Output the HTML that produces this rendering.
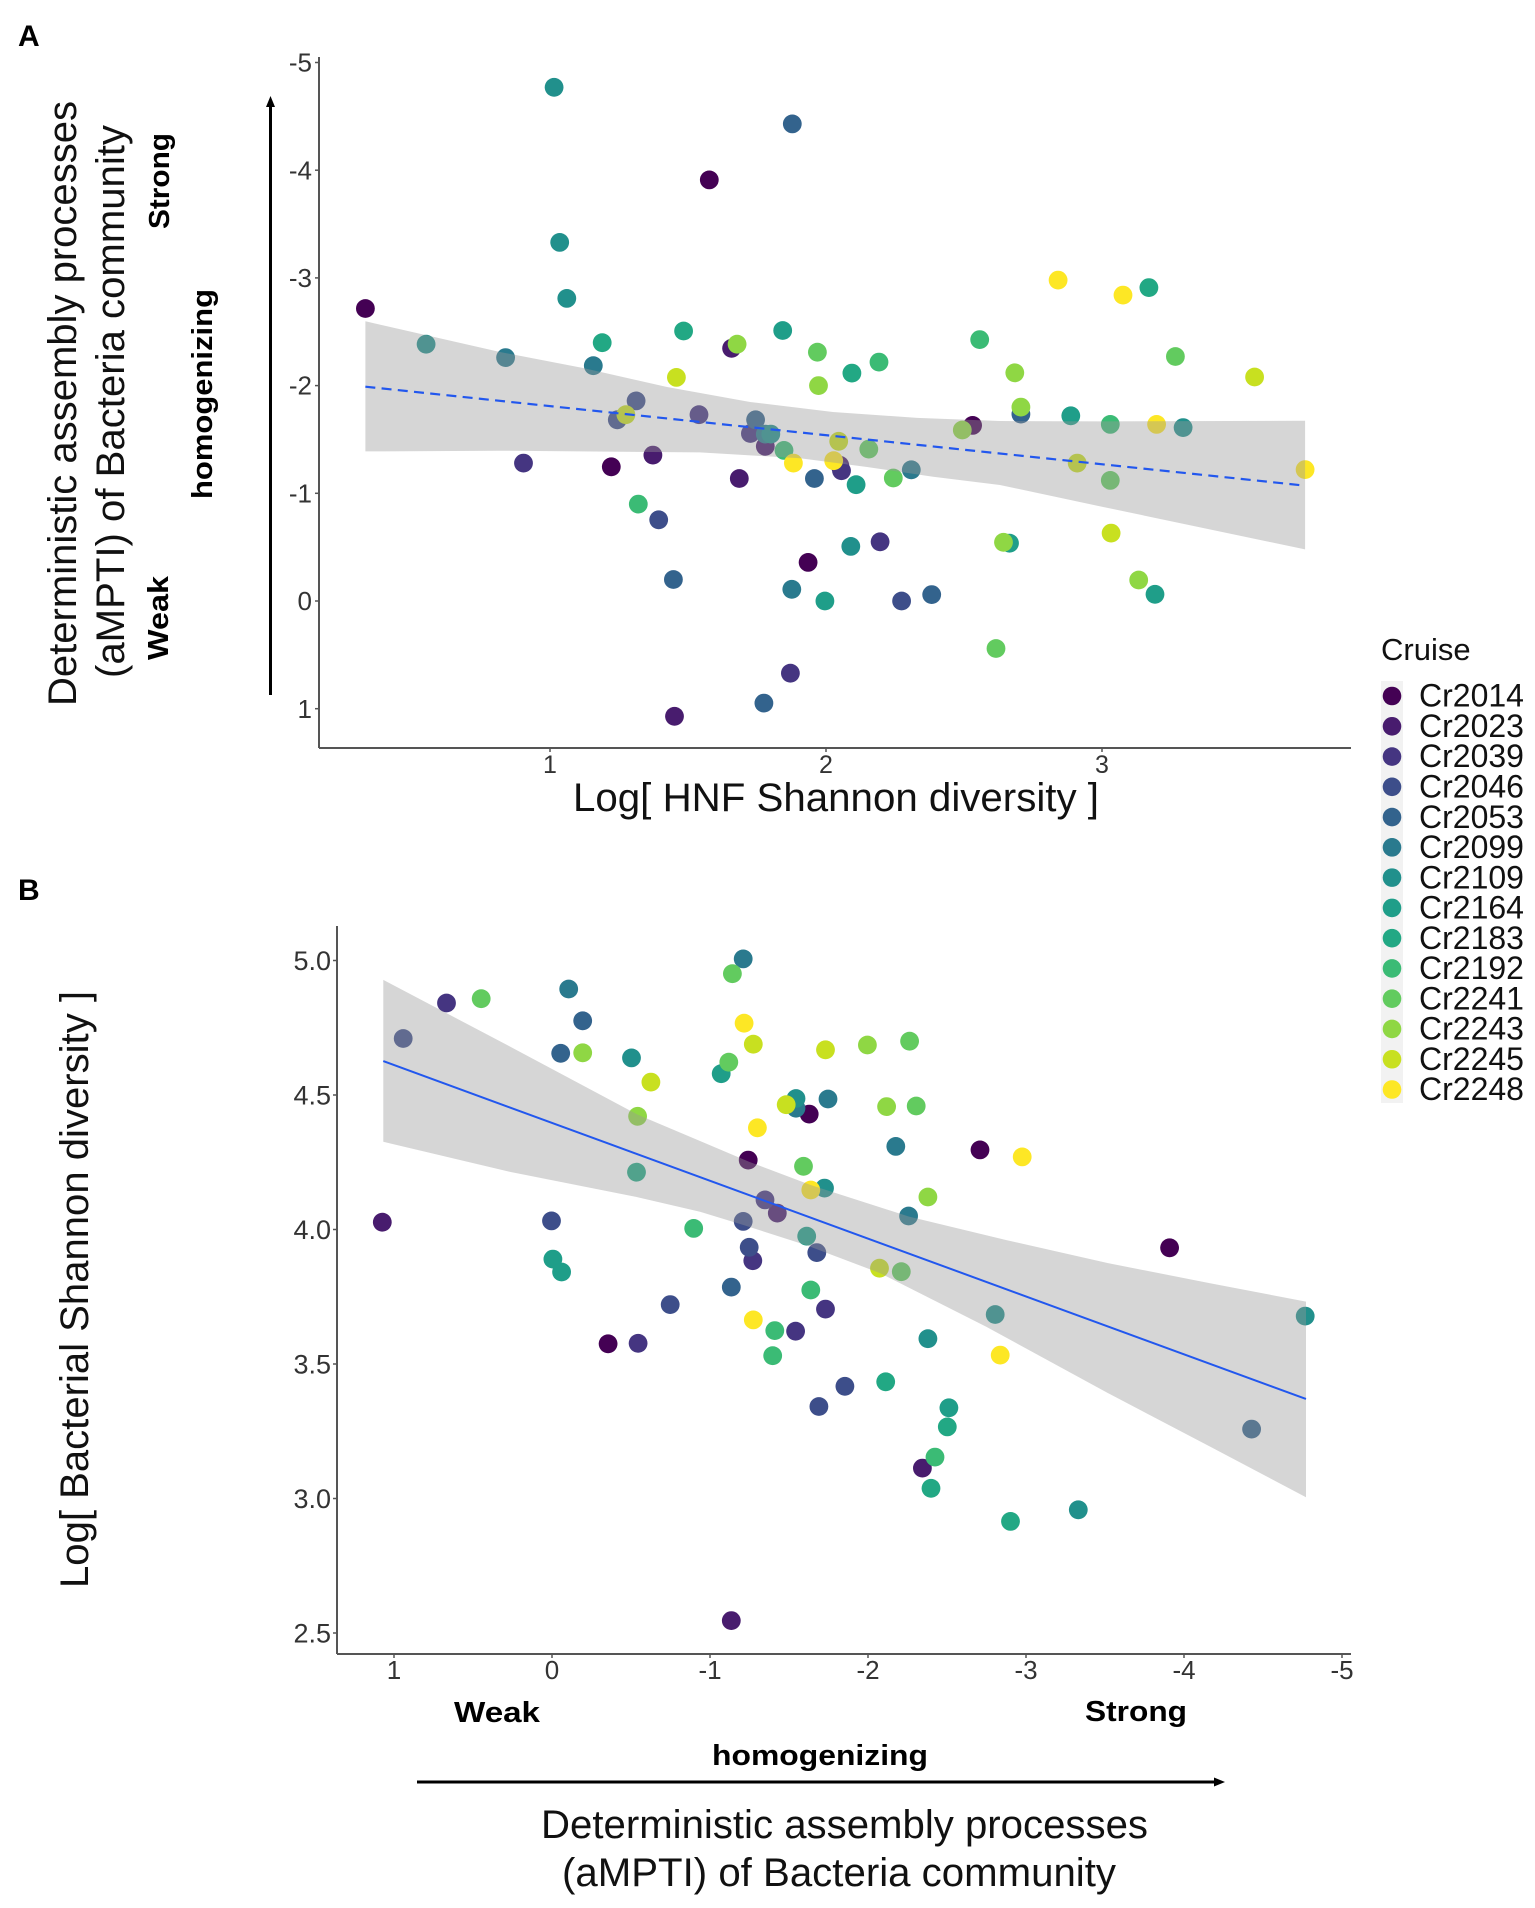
<!DOCTYPE html>
<html lang="en">
<head>
<meta charset="utf-8">
<title>Deterministic assembly processes scatter plots</title>
<style>
html,body{margin:0;padding:0;background:#fff;}
svg{display:block;font-family:"Liberation Sans",Arial,sans-serif;}
</style>
</head>
<body>
<svg id="figure" xmlns="http://www.w3.org/2000/svg" width="1535" height="1908" viewBox="0 0 1535 1908">
  <rect x="0" y="0" width="1535" height="1908" fill="#fff"/>
  <g id="panelA"></g>
  <g id="panelB"></g>

  <text x="18" y="46" font-size="30" font-weight="700" fill="#000">A</text>
  <text x="18" y="900" font-size="30" font-weight="700" fill="#000">B</text>

  <text transform="translate(76,706) rotate(-90)" font-size="40" fill="#111" textLength="605" lengthAdjust="spacingAndGlyphs">Deterministic assembly processes</text>
  <text transform="translate(124,678) rotate(-90)" font-size="40" fill="#111" textLength="553" lengthAdjust="spacingAndGlyphs">(aMPTI) of Bacteria community</text>
  <text transform="translate(169,229) rotate(-90)" font-size="29" font-weight="700" fill="#000" textLength="96" lengthAdjust="spacingAndGlyphs">Strong</text>
  <text transform="translate(212,499) rotate(-90)" font-size="29" font-weight="700" fill="#000" textLength="210" lengthAdjust="spacingAndGlyphs">homogenizing</text>
  <text transform="translate(168,660) rotate(-90)" font-size="29" font-weight="700" fill="#000" textLength="84" lengthAdjust="spacingAndGlyphs">Weak</text>
  <line x1="270.5" y1="695" x2="270.5" y2="102" stroke="#000" stroke-width="3"/>
  <polygon points="270.5,96 266,107 275,107" fill="#000"/>
  <text x="573" y="811" font-size="40" fill="#111" textLength="526" lengthAdjust="spacingAndGlyphs">Log[ HNF Shannon diversity ]</text>

  <text transform="translate(88,1588) rotate(-90)" font-size="40" fill="#111" textLength="597" lengthAdjust="spacingAndGlyphs">Log[ Bacterial Shannon diversity ]</text>
  <text x="454" y="1722" font-size="29" font-weight="700" fill="#000" textLength="86" lengthAdjust="spacingAndGlyphs">Weak</text>
  <text x="1085" y="1721" font-size="29" font-weight="700" fill="#000" textLength="102" lengthAdjust="spacingAndGlyphs">Strong</text>
  <text x="712" y="1765" font-size="29" font-weight="700" fill="#000" textLength="216" lengthAdjust="spacingAndGlyphs">homogenizing</text>
  <line x1="417" y1="1782" x2="1218" y2="1782" stroke="#000" stroke-width="3"/>
  <polygon points="1225,1782 1214,1777.5 1214,1786.5" fill="#000"/>
  <text x="541" y="1838" font-size="40" fill="#111" textLength="607" lengthAdjust="spacingAndGlyphs">Deterministic assembly processes</text>
  <text x="562" y="1886" font-size="40" fill="#111" textLength="554" lengthAdjust="spacingAndGlyphs">(aMPTI) of Bacteria community</text>

  <g id="legend">
    <text x="1381" y="660" font-size="31" fill="#111">Cruise</text>
    <rect x="1381" y="681" width="22" height="422" fill="#F2F2F2"/>
  </g>
</svg>
<script>
const cruises = ["Cr2014","Cr2023","Cr2039","Cr2046","Cr2053","Cr2099","Cr2109","Cr2164","Cr2183","Cr2192","Cr2241","Cr2243","Cr2245","Cr2248"];
const cruiseColors = ["#440154","#481C6E","#453581","#3D4E8A","#33638D","#2A7A8E","#21908C","#1F9E89","#22A884","#3BBB75","#62CB5F","#8FD744","#C8E020","#FDE725"];

const aTicksX = [1,2,3];
const aTicksY = [-5,-4,-3,-2,-1,0,1];
const aHnf = [1.015,1.878,1.577,1.035,1.061,0.331,0.551,0.839,1.157,1.189,1.484,1.658,1.678,1.843,1.458,1.312,1.275,1.244,1.54,0.904,1.222,1.373,1.686,1.32,1.394,1.447,1.876,1.745,1.726,1.78,1.80,1.78,1.848,1.882,1.958,1.969,1.973,2.094,2.192,2.046,2.028,2.05,2.056,2.155,2.109,2.244,2.309,2.09,2.196,1.935,1.996,2.274,2.383,2.616,1.871,1.775,1.451,2.557,2.684,2.706,2.706,2.531,2.494,2.887,3.03,3.198,3.294,2.91,3.03,3.736,2.643,2.665,3.033,3.133,3.192,2.841,3.076,3.17,3.266,3.553];
const aMpti = [-4.77,-4.43,-3.91,-3.33,-2.81,-2.716,-2.384,-2.26,-2.185,-2.398,-2.507,-2.346,-2.384,-2.512,-2.076,-1.858,-1.73,-1.682,-1.73,-1.28,-1.246,-1.355,-1.137,-0.90,-0.754,-0.2,-0.109,-1.682,-1.555,-1.436,-1.55,-1.55,-1.398,-1.28,-1.137,-2.31,-2.0,-2.116,-2.218,-1.483,-1.303,-1.26,-1.21,-1.41,-1.08,-1.142,-1.218,-0.507,-0.55,-0.358,0,0,-0.059,0.441,0.67,0.948,1.071,-2.427,-2.119,-1.80,-1.735,-1.63,-1.588,-1.72,-1.64,-1.64,-1.61,-1.28,-1.12,-1.22,-0.545,-0.537,-0.63,-0.195,-0.062,-2.98,-2.84,-2.91,-2.27,-2.08];
const aCruise = [6,4,0,6,6,0,6,5,5,8,8,1,11,7,12,3,12,3,2,2,0,1,1,9,3,4,5,4,2,1,6,5,9,13,4,10,11,8,9,12,13,1,2,10,7,10,5,6,2,0,7,3,4,10,2,4,1,9,11,11,4,0,11,7,9,13,6,12,10,13,11,7,12,11,7,13,13,8,10,12];
const aBandX = [0.331,0.819,1.12,1.424,1.725,2.025,2.33,2.63,3.0,3.736];
const aBandUpper = [-2.597,-2.312,-2.163,-1.987,-1.848,-1.755,-1.70,-1.671,-1.668,-1.673];
const aBandLowerX = [0.331,0.819,1.543,1.906,2.149,2.388,2.63,3.0,3.736];
const aBandLower = [-1.389,-1.396,-1.38,-1.325,-1.244,-1.154,-1.077,-0.876,-0.479];
const aFitX = [0.331,3.736];
const aFitY = [-1.99,-1.071];

const bTicksX = [1,0,-1,-2,-3,-4,-5];
const bTicksY = [5,4.5,4,3.5,3,2.5];
const bMpti = [1.074,0.668,0.448,0.942,-0.106,-0.194,-0.055,-0.194,-0.503,-0.626,-0.542,-0.535,0.003,-0.006,-0.061,-0.355,-0.545,-0.748,-0.897,-1.135,-1.135,-1.21,-1.142,-1.216,-1.274,-1.071,-1.119,-1.544,-1.544,-1.482,-1.3,-1.242,-1.348,-1.426,-1.21,-1.248,-1.271,-1.274,-1.41,-1.397,-1.542,-1.628,-1.747,-1.731,-1.996,-2.263,-2.118,-2.305,-2.176,-2.709,-2.976,-1.592,-2.379,-1.638,-1.725,-2.257,-1.612,-1.676,-2.073,-2.211,-1.638,-1.731,-2.379,-2.805,-2.837,-4.767,-3.909,-1.854,-2.112,-1.689,-2.512,-2.502,-2.424,-2.344,-2.399,-2.902,-3.331,-4.428];
const bShannon = [4.027,4.842,4.858,4.71,4.894,4.776,4.655,4.657,4.638,4.548,4.421,4.213,4.032,3.89,3.842,3.575,3.577,3.721,4.004,3.786,2.546,5.006,4.951,4.767,4.689,4.579,4.622,4.487,4.451,4.464,4.378,4.258,4.11,4.061,4.03,3.934,3.884,3.664,3.624,3.531,3.622,4.429,4.485,4.668,4.686,4.70,4.457,4.459,4.309,4.296,4.27,4.235,4.121,4.147,4.154,4.05,3.975,3.914,3.856,3.843,3.775,3.704,3.594,3.684,3.533,3.678,3.932,3.417,3.434,3.342,3.337,3.266,3.154,3.113,3.038,2.915,2.958,3.258];
const bCruise = [1,2,10,3,5,4,4,11,6,12,11,8,3,7,7,0,2,3,9,4,1,5,10,13,12,7,10,6,5,12,13,0,2,1,3,3,2,13,9,9,2,0,5,12,11,10,11,10,5,0,13,10,11,13,6,5,7,3,12,10,9,2,6,6,13,6,0,3,8,3,7,8,9,1,8,8,6,4];
const bBandX = [1.068,0.265,-0.542,-1.247,-1.639,-2.26,-2.873,-3.519,-4.165,-4.772];
const bBandUpper = [4.928,4.68,4.427,4.252,4.165,4.048,3.961,3.875,3.80,3.732];
const bBandLowerX = [1.068,0.265,-0.542,-0.937,-1.209,-1.608,-2.076,-2.747,-3.519,-4.165,-4.772];
const bBandLower = [4.326,4.214,4.12,4.066,4.017,3.942,3.838,3.639,3.392,3.193,3.005];
const bFitX = [1.068,-4.772];
const bFitY = [4.626,3.37];

const NS = "http://www.w3.org/2000/svg";
const axColor = "#555";
const lblColor = "#333";

function make(tag, attrs, parent){
  const el = document.createElementNS(NS, tag);
  for (const k in attrs) el.setAttribute(k, attrs[k]);
  parent.appendChild(el);
  return el;
}

/* axis functions */
const aX = v => 550 + (v - 1) * 276;
const aY = v => 601 + v * 107.7;
const bX = v => 552 - v * 158;
const bY = v => 1229.5 - (v - 4) * 269;

function bandPath(upX, up, loX, lo, sx, sy){
  let d = "";
  for (let i = 0; i < upX.length; i++) d += (i ? "L" : "M") + sx(upX[i]).toFixed(1) + " " + sy(up[i]).toFixed(1);
  for (let i = loX.length - 1; i >= 0; i--) d += "L" + sx(loX[i]).toFixed(1) + " " + sy(lo[i]).toFixed(1);
  return d + "Z";
}

function drawPoints(root, xs, ys, cs, sx, sy, prefix){
  const order = xs.map((_, i) => i).sort((p, q) => cs[p] - cs[q] || p - q);
  order.forEach(i => {
    const c = make("circle", {cx: sx(xs[i]).toFixed(1), cy: sy(ys[i]).toFixed(1), r: 9.4, fill: cruiseColors[cs[i]]}, root);
    
    
  });
}

function drawAxes(root, prefix, left, top, bottom, right, ticksX, ticksY, sx, sy, fmtY, xLabelY, yLabelX, fsX, fsY){
  const yAxis = make("line", {x1: left, y1: top, x2: left, y2: bottom, stroke: axColor, "stroke-width": 2}, root);
  
  
  const xAxis = make("line", {x1: left, y1: bottom, x2: right, y2: bottom, stroke: axColor, "stroke-width": 2}, root);
  
  
  ticksX.forEach(t => {
    const m = make("line", {x1: sx(t), y1: bottom, x2: sx(t), y2: bottom + 4, stroke: axColor, "stroke-width": 1.5}, root);
    
    
    const l = make("text", {x: sx(t), y: xLabelY, "text-anchor": "middle", "font-size": fsX, fill: lblColor}, root);
    
    
    l.textContent = String(t);
  });
  ticksY.forEach(t => {
    const m = make("line", {x1: left - 4, y1: sy(t), x2: left, y2: sy(t), stroke: axColor, "stroke-width": 1.5}, root);
    
    
    const l = make("text", {x: yLabelX, y: sy(t) + fsY * 0.35, "text-anchor": "end", "font-size": fsY, fill: lblColor}, root);
    
    
    l.textContent = fmtY(t);
  });
}

function drawPanel(root, prefix, cfg){
  drawPoints(root, cfg.xs, cfg.ys, cfg.cs, cfg.sx, cfg.sy, prefix);
  const band = make("path", {d: bandPath(cfg.upX, cfg.up, cfg.loX, cfg.lo, cfg.sx, cfg.sy), fill: "#999", "fill-opacity": 0.4}, root);
  
  
  const fit = make("line", {x1: cfg.sx(cfg.fitX[0]), y1: cfg.sy(cfg.fitY[0]), x2: cfg.sx(cfg.fitX[1]), y2: cfg.sy(cfg.fitY[1]), stroke: "#2257ee", "stroke-width": cfg.lw}, root);
  if (cfg.dash) fit.setAttribute("stroke-dasharray", cfg.dash);
  
  
}

const panelA = document.getElementById("panelA");
drawPanel(panelA, "panel-a", {xs: aHnf, ys: aMpti, cs: aCruise, sx: aX, sy: aY, upX: aBandX, up: aBandUpper, loX: aBandLowerX, lo: aBandLower, fitX: aFitX, fitY: aFitY, lw: 2.2, dash: "10 6.3"});
drawAxes(panelA, "panel-a", 319, 57, 748, 1351, aTicksX, aTicksY, aX, aY, t => String(t), 773, 312, 25, 26);

const panelB = document.getElementById("panelB");
drawPanel(panelB, "panel-b", {xs: bMpti, ys: bShannon, cs: bCruise, sx: bX, sy: bY, upX: bBandX, up: bBandUpper, loX: bBandLowerX, lo: bBandLower, fitX: bFitX, fitY: bFitY, lw: 2, dash: ""});
drawAxes(panelB, "panel-b", 337, 926, 1654, 1351, bTicksX, bTicksY, bX, bY, t => t.toFixed(1), 1679, 331, 26, 27);

const legend = document.getElementById("legend");
cruises.forEach((name, i) => {
  const cy = 696 + i * 30.27;
  const key = make("circle", {cx: 1392, cy: cy, r: 9.3, fill: cruiseColors[i]}, legend);
  
  
  const lab = make("text", {x: 1419, y: cy + 10.7, "font-size": 32, fill: "#111"}, legend);
  
  
  lab.textContent = name;
});
</script>
</body>
</html>
